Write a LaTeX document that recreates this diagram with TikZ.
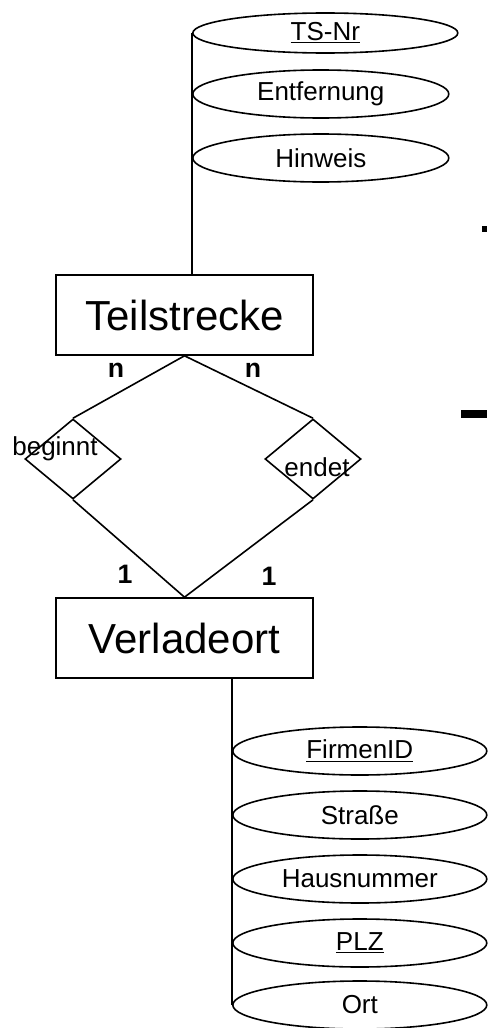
\documentclass[tikz,border=0pt]{standalone}
\usepackage{fontspec}
\setmainfont{Liberation Sans}
\usetikzlibrary{shapes.geometric}

\tikzset{
  entity/.style={draw, rectangle, line width=1.2pt, minimum width=192.75pt, minimum height=60pt, inner sep=0.75pt, font=\fontsize{31.5}{36}\selectfont},
  attrib/.style={draw, ellipse, line width=1.2pt, minimum width=192pt, minimum height=36pt, inner sep=0pt, font=\fontsize{19.5}{23}\selectfont},
  relship/.style={draw, diamond, line width=1.2pt, minimum width=72pt, minimum height=60pt, inner sep=0pt},
  reltext/.style={inner sep=0.75pt, font=\fontsize{19.5}{23}\selectfont},
  card/.style={inner sep=0.75pt, font=\fontsize{20}{24}\selectfont\bfseries},
  conn/.style={line width=1.2pt}
}

\begin{document}
\begin{tikzpicture}[x=0.75pt,y=0.75pt,yscale=-1,xscale=1]
\useasboundingbox (0,0) rectangle (487,1028);

% Entitaeten
\node [entity] (teil) at (184.5,315) {Teilstrecke};
\node [entity] (verl) at (184.5,638) {Verladeort};

% Attribute Teilstrecke
\node [attrib, anchor=west, minimum width=198.75pt, minimum height=30pt] (tsnr) at (192,33) {\underline{TS-Nr}};
\node [attrib, anchor=west] (entf) at (192,94) {Entfernung};
\node [attrib, anchor=west] (hinw) at (192,158) {Hinweis};
\draw [conn] (tsnr.west) -- (tsnr.west |- teil.north);

% Attribute Verladeort
\node [attrib, anchor=west, minimum width=190.5pt] (firm) at (232,751) {\underline{FirmenID}};
\node [attrib, anchor=west, minimum width=190.5pt] (str) at (232,815) {Straße};
\node [attrib, anchor=west, minimum width=190.5pt] (hnr) at (232,879) {Hausnummer};
\node [attrib, anchor=west, minimum width=190.5pt] (plz) at (232,943) {\underline{PLZ}};
\node [attrib, anchor=west, minimum width=190.5pt] (ort) at (232,1005) {Ort};
\draw [conn] (ort.west) -- (ort.west |- verl.south);

% Beziehungen
\node [relship] (beg) at (73,459) {};
\node [relship] (end) at (313,459) {};
\node [reltext] (begt) at (55,449) {beginnt};
\node [reltext] (endt) at (317,467) {endet};

\draw [conn] (teil.south) -- (beg.north);
\draw [conn] (teil.south) -- (end.north);
\draw [conn] (beg.south) -- (verl.north);
\draw [conn] (end.south) -- (verl.north);

% Kardinalitaeten
\node [card] (n1) at (116,370) {n};
\node [card] (n2) at (253,370) {n};
\node [card] (e1) at (125,574) {1};
\node [card] (e2) at (269,576) {1};

% Reste am rechten Rand
\fill (482,226) rectangle (487,232);
\fill (461,410) rectangle (487,418);

\end{tikzpicture}
\end{document}
